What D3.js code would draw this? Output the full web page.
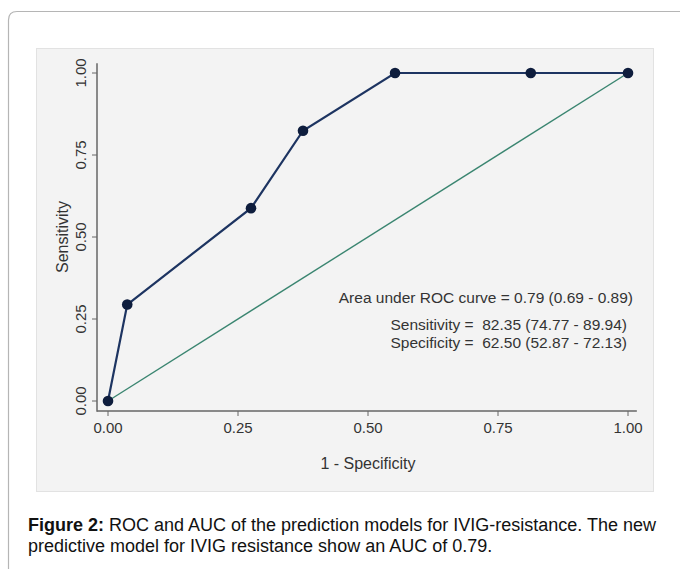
<!doctype html>
<html lang="en">
  <head>
    <meta charset="utf-8">
    <title>ROC curve</title>
    <script src="https://d3js.org/d3.v7.min.js"></script>
    <style>
      body { margin: 0; background: #fff; }
      text { font-family: "Liberation Sans", Arial, sans-serif; fill: #333; }
    </style>
  </head>
  <body>
    <svg width="680" height="569"></svg>
    <script>
      // ROC points (1 - specificity, sensitivity)
      var fpr = [0, 0.037, 0.275, 0.375, 0.552, 0.813, 1];
      var tpr = [0, 0.294, 0.588, 0.824, 1, 1, 1];
      var ticks = [0, 0.25, 0.5, 0.75, 1];
      var notes = ['Area under ROC curve = 0.79 (0.69 - 0.89)',
                   'Sensitivity =  82.35 (74.77 - 89.94)',
                   'Specificity =  62.50 (52.87 - 72.13)'];

      var svg = d3.select('svg');

      // card outline
      svg.append('path')
        .attr('d', 'M8.5,569 L8.5,20 Q8.5,11.5 17,11.5 L690,11.5')
        .attr('fill', 'none')
        .attr('stroke', '#b5b5b5')
        .attr('stroke-width', 1.2);

      // plot panel
      svg.append('rect')
        .attr('x', 36.5).attr('y', 48.5)
        .attr('width', 617).attr('height', 443)
        .attr('fill', '#f3f3f3')
        .attr('stroke', '#e2e2e2');

      var x = d3.scaleLinear().domain([0, 1]).range([108, 628]);
      var y = d3.scaleLinear().domain([0, 1]).range([401, 73]);

      var fmt = d3.format('.2f');

      // axes
      var gx = svg.append('g').attr('transform', 'translate(0,411)');
      gx.append('line')
        .attr('x1', x(-0.021)).attr('x2', x(1.017))
        .attr('stroke', '#666').attr('stroke-width', 1.5);
      gx.selectAll('.t').data(ticks).enter().append('line')
        .attr('x1', d => x(d)).attr('x2', d => x(d))
        .attr('y1', 0).attr('y2', 5)
        .attr('stroke', '#666');
      gx.selectAll('text').data(ticks).enter().append('text')
        .attr('x', d => x(d)).attr('y', 22)
        .attr('text-anchor', 'middle')
        .style('font-size', '15px')
        .text(fmt);

      var gy = svg.append('g').attr('transform', 'translate(97,0)');
      gy.append('line')
        .attr('y1', y(1.03)).attr('y2', 411.75)
        .attr('stroke', '#666').attr('stroke-width', 1.5);
      gy.selectAll('.t').data(ticks).enter().append('line')
        .attr('y1', d => y(d)).attr('y2', d => y(d))
        .attr('x1', 0).attr('x2', -5)
        .attr('stroke', '#666');
      gy.selectAll('text').data(ticks).enter().append('text')
        .attr('transform', d => 'translate(-11,' + y(d) + ') rotate(-90)')
        .attr('text-anchor', 'middle')
        .style('font-size', '15px')
        .text(fmt);

      svg.append('text')
        .attr('x', x(0.5)).attr('y', 469)
        .attr('text-anchor', 'middle')
        .style('font-size', '16px')
        .text('1 - Specificity');
      svg.append('text')
        .attr('transform', 'translate(68,' + y(0.5) + ') rotate(-90)')
        .attr('text-anchor', 'middle')
        .style('font-size', '16px')
        .text('Sensitivity');

      // reference line
      svg.append('line')
        .attr('x1', x(0)).attr('y1', y(0))
        .attr('x2', x(1)).attr('y2', y(1))
        .attr('stroke', '#3a8570').attr('stroke-width', 1.4);

      // ROC curve
      var pts = fpr.map((d, i) => [d, tpr[i]]);
      svg.append('path')
        .attr('d', d3.line().x(d => x(d[0])).y(d => y(d[1]))(pts))
        .attr('fill', 'none')
        .attr('stroke', '#1d3461').attr('stroke-width', 2.2);
      svg.selectAll('circle').data(pts).enter().append('circle')
        .attr('cx', d => x(d[0])).attr('cy', d => y(d[1]))
        .attr('r', 5.3)
        .attr('fill', '#0e1d3d');

      // annotation
      svg.append('text')
        .attr('x', 633).attr('y', 303)
        .attr('text-anchor', 'end')
        .style('font-size', '15.5px')
        .text(notes[0]);
      svg.selectAll('.note').data(notes.slice(1)).enter().append('text')
        .attr('x', 627).attr('y', (d, i) => 330 + i * 18)
        .attr('text-anchor', 'end')
        .style('font-size', '15.5px')
        .style('white-space', 'pre')
        .text(d => d);

      // caption
      var cap = svg.append('text')
        .attr('x', 28).attr('y', 531)
        .style('font-size', '18px')
        .style('fill', '#111');
      cap.append('tspan').style('font-weight', 'bold').text('Figure 2:');
      cap.append('tspan').text(' ROC and AUC of the prediction models for IVIG-resistance. The new');
      svg.append('text')
        .attr('x', 28).attr('y', 552)
        .style('font-size', '18px')
        .style('fill', '#111')
        .text('predictive model for IVIG resistance show an AUC of 0.79.');
    </script>
  </body>
</html>
